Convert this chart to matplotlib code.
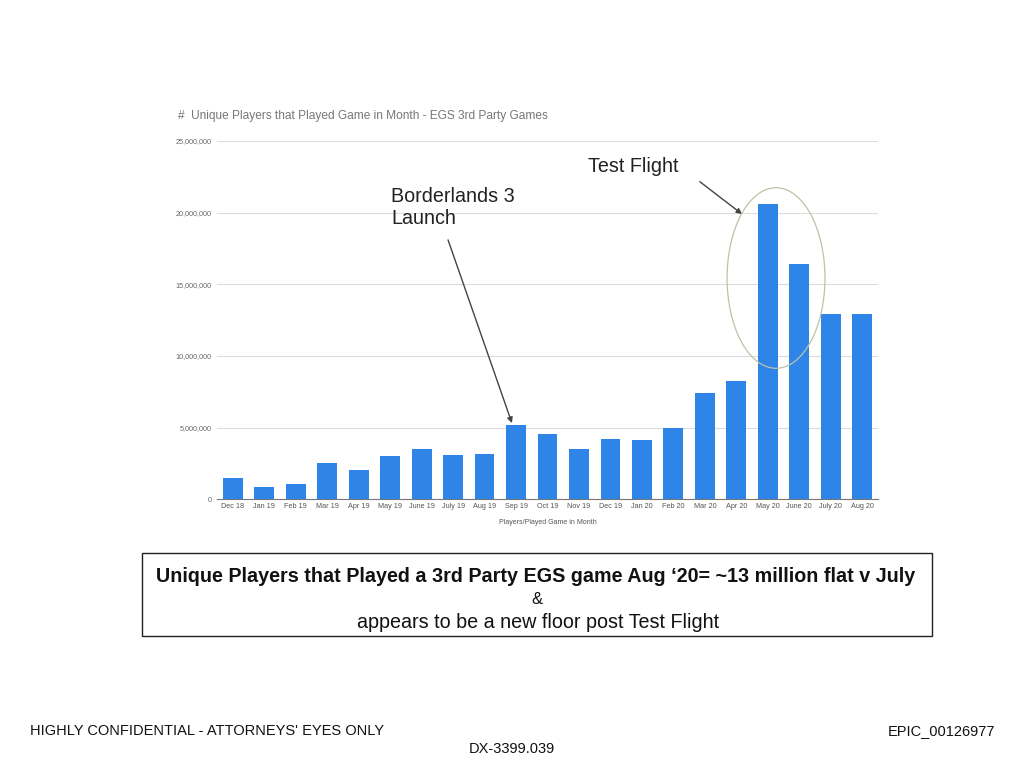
import matplotlib
matplotlib.use("Agg")
import matplotlib.pyplot as plt
from matplotlib.patches import Ellipse, Rectangle
from matplotlib.ticker import FuncFormatter

# Data
months = ["Dec 18", "Jan 19", "Feb 19", "Mar 19", "Apr 19", "May 19", "June 19",
          "July 19", "Aug 19", "Sep 19", "Oct 19", "Nov 19", "Dec 19", "Jan 20",
          "Feb 20", "Mar 20", "Apr 20", "May 20", "June 20", "July 20", "Aug 20"]
players = [1_460_000, 830_000, 1_060_000, 2_500_000, 2_060_000, 3_030_000, 3_540_000,
           3_060_000, 3_170_000, 5_180_000, 4_580_000, 3_510_000, 4_240_000, 4_170_000,
           5_000_000, 7_450_000, 8_220_000, 20_600_000, 16_430_000, 12_960_000, 12_960_000]
y_ticks = [0, 5_000_000, 10_000_000, 15_000_000, 20_000_000, 25_000_000]

W, H = 1024, 760
plt.rcParams["font.family"] = ["Liberation Sans", "DejaVu Sans"]

fig = plt.figure(figsize=(W / 100, H / 100), dpi=100)
fig.patch.set_facecolor("white")


def fx(px):
    return px / W


def fy(py):
    return 1 - py / H


ax = fig.add_axes([fx(217), fy(499.3), fx(878) - fx(217), fy(141) - fy(499.3)])
x = list(range(len(months)))
ax.bar(x, players, width=0.63, color="#2f84e8", zorder=3)

ax.set_xlim(-0.5, len(months) - 0.5)
ax.set_ylim(0, 25_000_000)
ax.set_yticks(y_ticks)
ax.yaxis.set_major_formatter(FuncFormatter(lambda v, _: f"{int(v):,}"))
ax.set_xticks(x)
ax.set_xticklabels(months)
ax.tick_params(axis="x", length=0, labelsize=5.2, colors="#555555", pad=3)
ax.tick_params(axis="y", length=0, labelsize=5.2, colors="#666666", pad=4)
ax.grid(axis="y", color="#dcdcdc", lw=0.8, zorder=0)
for s in ("top", "right", "left"):
    ax.spines[s].set_visible(False)
ax.spines["bottom"].set_color("#777777")
ax.spines["bottom"].set_linewidth(0.8)
ax.set_xlabel("Players/Played Game in Month", fontsize=5, color="#555555", labelpad=6)

# Chart title
fig.text(fx(178), fy(116), "#  Unique Players that Played Game in Month - EGS 3rd Party Games",
         fontsize=8.6, color="#777777", va="center", ha="left")

# Annotations
fig.text(fx(391), fy(208), "Borderlands 3\nLaunch", fontsize=14.2, color="#222222",
         va="center", ha="left", linespacing=1.2)
ax.annotate("", xy=(8.87, 5_320_000), xytext=(6.84, 18_100_000),
            arrowprops=dict(arrowstyle="-|>", color="#444444", lw=1.0,
                            mutation_scale=8, shrinkA=0, shrinkB=0),
            annotation_clip=False)
fig.text(fx(588), fy(167), "Test Flight", fontsize=14.2, color="#222222",
         va="center", ha="left")
ax.annotate("", xy=(16.18, 19_900_000), xytext=(14.84, 22_160_000),
            arrowprops=dict(arrowstyle="-|>", color="#444444", lw=1.0,
                            mutation_scale=8, shrinkA=0, shrinkB=0),
            annotation_clip=False)
ax.add_patch(Ellipse((17.26, 15_440_000), 3.11, 12_600_000, fill=False,
                     edgecolor="#b9c4a8", lw=0.9, zorder=5, clip_on=False))

# Summary box
fig.add_artist(Rectangle((fx(142), fy(636)), fx(932) - fx(142), fy(553) - fy(636),
                         fill=False, edgecolor="#222222", lw=1.0,
                         transform=fig.transFigure))
fig.text(fx(536), fy(577),
         "Unique Players that Played a 3rd Party EGS game Aug \u201820= ~13 million flat v July",
         fontsize=14.2, fontweight="bold", color="#111111", ha="center", va="center")
fig.text(fx(537), fy(599), "&", fontsize=12, color="#111111", ha="center", va="center")
fig.text(fx(538), fy(622), "appears to be a new floor post Test Flight",
         fontsize=14.2, color="#111111", ha="center", va="center")

# Footer
fig.text(fx(30), fy(731), "HIGHLY CONFIDENTIAL - ATTORNEYS' EYES ONLY",
         fontsize=10.5, color="#111111", ha="left", va="center")
fig.text(fx(995), fy(731), "EPIC_00126977", fontsize=10.5, color="#111111",
         ha="right", va="center")
fig.text(fx(512), fy(749), "DX-3399.039", fontsize=10.5, color="#111111",
         ha="center", va="center")

fig.savefig("out.png", dpi=100)
